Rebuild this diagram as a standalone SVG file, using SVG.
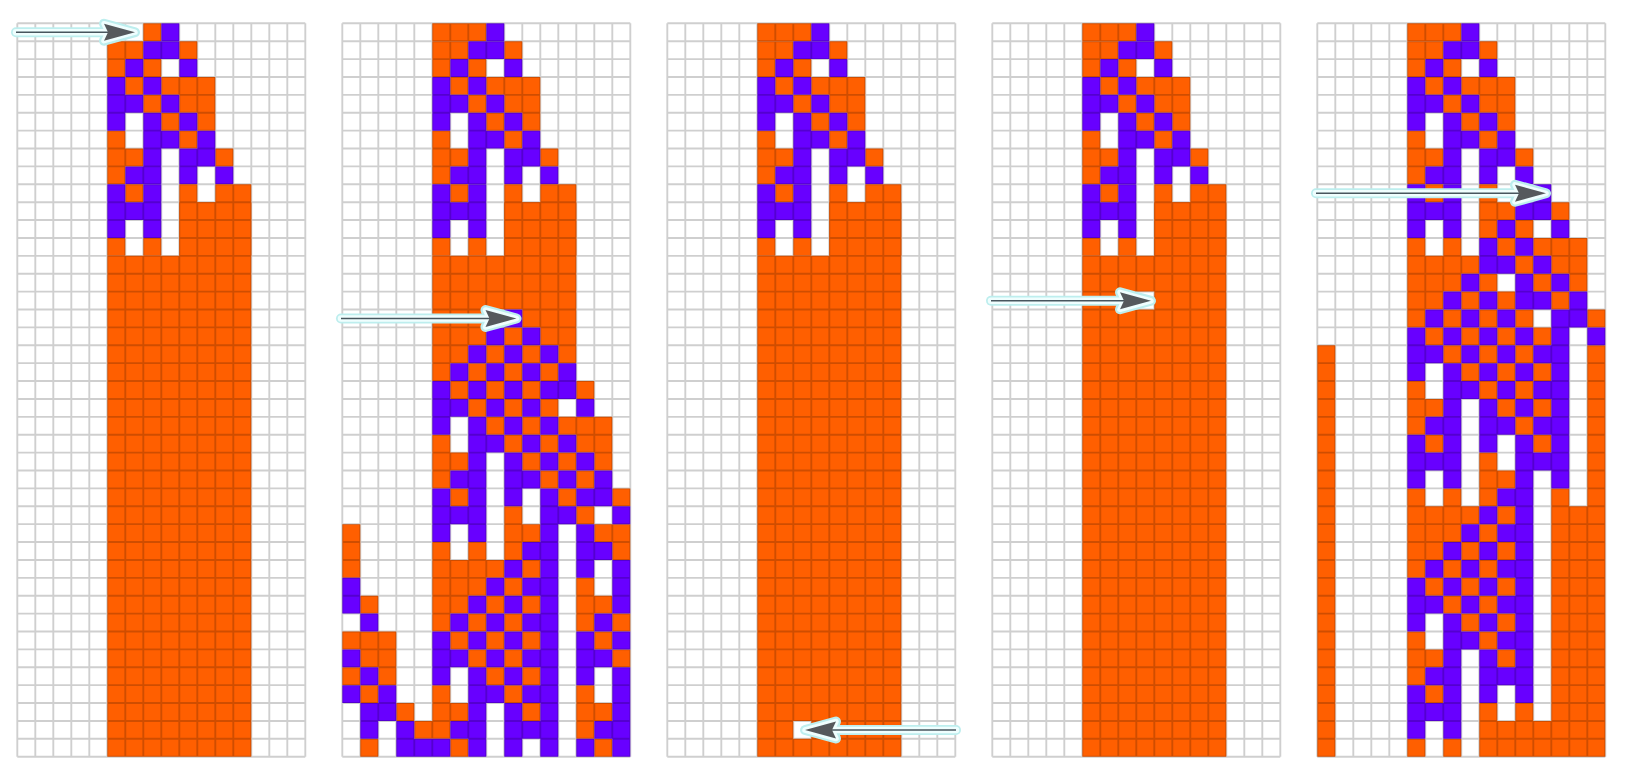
<svg xmlns="http://www.w3.org/2000/svg" xmlns:xlink="http://www.w3.org/1999/xlink" width="1625" height="784" viewBox="0 0 1625 784">
<style>
.o{fill:#ff5f00}
.p{fill:#6800ff}
.hl1{fill:none;stroke:#bdeeee;stroke-width:10;stroke-linecap:round}
.hl2{fill:none;stroke:#effefe;stroke-width:6.5;stroke-linecap:round}
.shaft{fill:none;stroke:#47565e;stroke-width:1.5}
.hh1{fill:#bdeeee;stroke:#bdeeee;stroke-width:10;stroke-linejoin:round}
.hh2{fill:#effefe;stroke:#effefe;stroke-width:5.5;stroke-linejoin:round}
.hd{fill:#55595c;stroke:none}
</style>
<defs>
<path id="grid" fill="none" stroke="#000" stroke-opacity="0.19" stroke-width="1.9" vector-effect="non-scaling-stroke" d="M0 0V41M1 0V41M2 0V41M3 0V41M4 0V41M5 0V41M6 0V41M7 0V41M8 0V41M9 0V41M10 0V41M11 0V41M12 0V41M13 0V41M14 0V41M15 0V41M16 0V41M0 0H16M0 1H16M0 2H16M0 3H16M0 4H16M0 5H16M0 6H16M0 7H16M0 8H16M0 9H16M0 10H16M0 11H16M0 12H16M0 13H16M0 14H16M0 15H16M0 16H16M0 17H16M0 18H16M0 19H16M0 20H16M0 21H16M0 22H16M0 23H16M0 24H16M0 25H16M0 26H16M0 27H16M0 28H16M0 29H16M0 30H16M0 31H16M0 32H16M0 33H16M0 34H16M0 35H16M0 36H16M0 37H16M0 38H16M0 39H16M0 40H16M0 41H16"/>
<g id="top">
<path class="o" d="M5 1h2v1h-2zM9 1h1v1h-1zM5 2h1v1h-1zM7 2h1v1h-1zM6 3h1v1h-1zM8 3h3v1h-3zM7 4h1v1h-1zM9 4h2v1h-2zM8 5h1v1h-1zM10 5h1v1h-1zM5 6h1v1h-1zM9 6h1v1h-1zM5 7h2v1h-2zM11 7h1v1h-1zM5 8h1v1h-1z"/>
<path class="p" d="M7 1h2v1h-2zM6 2h1v1h-1zM9 2h1v1h-1zM5 3h1v1h-1zM7 3h1v1h-1zM5 4h2v1h-2zM8 4h1v1h-1zM5 5h1v1h-1zM7 5h1v1h-1zM9 5h1v1h-1zM7 6h2v1h-2zM10 6h1v1h-1zM7 7h1v1h-1zM9 7h2v1h-2zM6 8h2v1h-2zM9 8h1v1h-1zM11 8h1v1h-1z"/>
</g>
<g id="mid">
<path class="o" d="M6 9h1v1h-1zM9 9h1v1h-1zM11 9h2v1h-2zM9 10h4v3h-4zM5 12h1v1h-1zM7 12h1v1h-1z"/>
<path class="p" d="M5 9h1v1h-1zM7 9h1v1h-1zM5 10h3v1h-3zM5 11h1v1h-1zM7 11h1v1h-1z"/>
</g>
<g id="row0">
<path class="o" d="M5 0h3v1h-3z"/>
<path class="p" d="M8 0h1v1h-1z"/>
</g>
<path id="ah" d="M0 0L-31 -8.5L-27 0L-31 8.5Z"/>
</defs>
<rect x="0" y="0" width="1625" height="784" fill="#ffffff"/>

<g id="panel1" transform="translate(17.3,23.3) scale(18,17.888)">
<path class="o" d="M7 0h1v1h-1z"/>
<path class="p" d="M8 0h1v1h-1z"/>
<use xlink:href="#top"/>
<use xlink:href="#mid"/>
<path class="o" d="M5 13h8v28h-8zM9 10h4v3.1h-4z"/>
<use xlink:href="#grid"/>
</g>

<g id="panel2" transform="translate(342.3,23.3) scale(18,17.888)">
<use xlink:href="#row0"/>
<use xlink:href="#top"/>
<use xlink:href="#mid"/>
<path class="o" d="M9 10h4v3.1h-4zM5 13h8v3h-8zM5 16h3v1h-3zM10 16h3v1h-3zM5 17h3v1h-3zM9 17h1v1h-1zM11 17h2v1h-2zM5 18h2v1h-2zM8 18h1v1h-1zM10 18h1v1h-1zM12 18h1v1h-1zM5 19h1v1h-1zM7 19h1v1h-1zM9 19h1v1h-1zM11 19h1v1h-1zM6 20h1v1h-1zM8 20h1v1h-1zM10 20h1v1h-1zM13 20h1v1h-1zM7 21h1v1h-1zM9 21h1v1h-1zM11 21h1v1h-1zM8 22h1v1h-1zM10 22h1v1h-1zM12 22h3v1h-3zM5 23h1v1h-1zM9 23h1v1h-1zM11 23h1v1h-1zM13 23h2v1h-2zM5 24h2v1h-2zM10 24h1v1h-1zM12 24h1v1h-1zM14 24h1v1h-1zM5 25h1v1h-1zM11 25h1v1h-1zM13 25h1v1h-1zM6 26h1v1h-1zM12 26h1v1h-1zM15 26h1v1h-1zM9 27h1v1h-1zM13 27h1v1h-1zM0 28h1v3h-1zM9 28h2v1h-2zM14 28h2v1h-2zM5 29h1v1h-1zM7 29h1v1h-1zM9 29h1v1h-1zM15 29h1v1h-1zM5 30h4v1h-4zM10 30h1v1h-1zM5 31h3v1h-3zM9 31h1v1h-1zM13 31h1v1h-1zM1 32h1v1h-1zM5 32h2v1h-2zM8 32h1v1h-1zM10 32h1v1h-1zM13 32h2v1h-2zM5 33h1v1h-1zM7 33h1v1h-1zM9 33h1v1h-1zM13 33h1v1h-1zM15 33h1v1h-1zM0 34h3v1h-3zM6 34h1v1h-1zM8 34h1v1h-1zM10 34h1v1h-1zM14 34h1v1h-1zM1 35h2v1h-2zM7 35h1v1h-1zM9 35h1v1h-1zM15 35h1v1h-1zM0 36h1v1h-1zM2 36h1v1h-1zM8 36h1v1h-1zM10 36h1v1h-1zM1 37h1v1h-1zM5 37h1v1h-1zM9 37h1v1h-1zM13 37h1v1h-1zM3 38h1v1h-1zM5 38h2v1h-2zM10 38h1v1h-1zM13 38h2v1h-2zM4 39h2v1h-2zM13 39h1v1h-1zM1 40h1v1h-1zM6 40h1v1h-1zM14 40h1v1h-1z"/>
<path class="p" d="M9 16h1v1h-1zM8 17h1v1h-1zM10 17h1v1h-1zM7 18h1v1h-1zM9 18h1v1h-1zM11 18h1v1h-1zM6 19h1v1h-1zM8 19h1v1h-1zM10 19h1v1h-1zM12 19h1v1h-1zM5 20h1v1h-1zM7 20h1v1h-1zM9 20h1v1h-1zM11 20h2v1h-2zM5 21h2v1h-2zM8 21h1v1h-1zM10 21h1v1h-1zM13 21h1v1h-1zM5 22h1v1h-1zM7 22h1v1h-1zM9 22h1v1h-1zM11 22h1v1h-1zM7 23h2v1h-2zM10 23h1v1h-1zM12 23h1v1h-1zM7 24h1v1h-1zM9 24h1v1h-1zM11 24h1v1h-1zM13 24h1v1h-1zM6 25h2v1h-2zM9 25h2v1h-2zM12 25h1v1h-1zM14 25h1v1h-1zM5 26h1v1h-1zM7 26h1v1h-1zM9 26h1v1h-1zM11 26h1v1h-1zM13 26h2v1h-2zM5 27h3v1h-3zM11 27h2v1h-2zM15 27h1v1h-1zM5 28h1v1h-1zM7 28h1v1h-1zM11 28h1v1h-1zM13 28h1v1h-1zM10 29h2v1h-2zM13 29h2v1h-2zM9 30h1v1h-1zM11 30h1v1h-1zM13 30h1v1h-1zM15 30h1v1h-1zM0 31h1v1h-1zM8 31h1v1h-1zM10 31h2v1h-2zM15 31h1v1h-1zM0 32h1v1h-1zM7 32h1v1h-1zM9 32h1v1h-1zM11 32h1v1h-1zM15 32h1v1h-1zM1 33h1v1h-1zM6 33h1v1h-1zM8 33h1v1h-1zM10 33h2v1h-2zM14 33h1v1h-1zM5 34h1v1h-1zM7 34h1v1h-1zM9 34h1v1h-1zM11 34h1v1h-1zM13 34h1v1h-1zM15 34h1v1h-1zM0 35h1v1h-1zM5 35h2v1h-2zM8 35h1v1h-1zM10 35h2v1h-2zM13 35h2v1h-2zM1 36h1v1h-1zM5 36h1v1h-1zM7 36h1v1h-1zM9 36h1v1h-1zM11 36h1v1h-1zM13 36h1v1h-1zM15 36h1v1h-1zM0 37h1v1h-1zM2 37h1v1h-1zM7 37h2v1h-2zM10 37h2v1h-2zM15 37h1v1h-1zM1 38h2v1h-2zM7 38h1v1h-1zM9 38h1v1h-1zM11 38h1v1h-1zM15 38h1v1h-1zM1 39h1v1h-1zM3 39h1v1h-1zM6 39h2v1h-2zM9 39h3v1h-3zM14 39h2v1h-2zM3 40h3v1h-3zM7 40h1v1h-1zM9 40h1v1h-1zM11 40h1v1h-1zM13 40h1v1h-1zM15 40h1v1h-1z"/>
<use xlink:href="#grid"/>
</g>

<g id="panel3" transform="translate(667.3,23.3) scale(18,17.888)">
<use xlink:href="#row0"/>
<use xlink:href="#top"/>
<use xlink:href="#mid"/>
<path class="o" d="M9 10h4v3.1h-4zM5 13h8v26h-8zM5 39h2v1h-2zM8 39h5v1h-5zM5 40h8v1h-8z"/>
<use xlink:href="#grid"/>
</g>

<g id="panel4" transform="translate(992.3,23.3) scale(18,17.888)">
<use xlink:href="#row0"/>
<use xlink:href="#top"/>
<use xlink:href="#mid"/>
<path class="o" d="M9 10h4v3.1h-4zM5 13h8v2h-8zM5 15h3v1h-3zM9 15h4v1h-4zM5 16h8v25h-8z"/>
<use xlink:href="#grid"/>
</g>

<g id="panel5" transform="translate(1317.3,23.3) scale(18,17.888)">
<use xlink:href="#row0"/>
<use xlink:href="#top"/>
<path class="o" d="M6 9h1v1h-1zM9 9h1v1h-1zM9 10h2v1h-2zM13 10h1v1h-1zM9 11h1v1h-1zM11 11h1v1h-1zM5 12h1v1h-1zM7 12h1v1h-1zM10 12h1v1h-1zM12 12h3v1h-3zM5 13h4v1h-4zM11 13h1v1h-1zM13 13h2v1h-2zM5 14h3v1h-3zM9 14h1v1h-1zM12 14h1v1h-1zM14 14h1v1h-1zM5 15h2v1h-2zM8 15h1v1h-1zM10 15h1v1h-1zM13 15h1v1h-1zM5 16h1v1h-1zM7 16h1v1h-1zM9 16h1v1h-1zM11 16h1v1h-1zM15 16h1v1h-1zM6 17h1v1h-1zM8 17h1v1h-1zM10 17h1v1h-1zM12 17h1v1h-1zM0 18h1v23h-1zM15 18h1v23h-1zM13 27h2v14h-2zM9 39h4v2h-4zM7 18h1v1h-1zM9 18h1v1h-1zM11 18h1v1h-1zM8 19h1v1h-1zM10 19h1v1h-1zM12 19h1v1h-1zM5 20h1v1h-1zM9 20h1v1h-1zM11 20h1v1h-1zM5 21h2v1h-2zM10 21h1v1h-1zM12 21h1v1h-1zM5 22h1v1h-1zM11 22h1v1h-1zM6 23h1v1h-1zM12 23h1v1h-1zM9 24h1v1h-1zM9 25h2v1h-2zM5 26h1v1h-1zM7 26h1v1h-1zM9 26h1v1h-1zM13 26h1v1h-1zM5 27h4v1h-4zM10 27h1v1h-1zM5 28h3v1h-3zM9 28h1v1h-1zM5 29h2v1h-2zM8 29h1v1h-1zM10 29h1v1h-1zM5 30h1v1h-1zM7 30h1v1h-1zM9 30h1v1h-1zM6 31h1v1h-1zM8 31h1v1h-1zM10 31h1v1h-1zM7 32h1v1h-1zM9 32h1v1h-1zM8 33h1v1h-1zM10 33h1v1h-1zM5 34h1v1h-1zM9 34h1v1h-1zM5 35h2v1h-2zM10 35h1v1h-1zM5 36h1v1h-1zM6 37h1v1h-1zM9 38h1v1h-1zM11 38h1v1h-1zM5 40h1v1h-1zM7 40h1v1h-1z"/>
<path class="p" d="M5 9h1v1h-1zM7 9h1v1h-1zM12 9h1v1h-1zM5 10h3v1h-3zM11 10h2v1h-2zM5 11h1v1h-1zM7 11h1v1h-1zM10 11h1v1h-1zM13 11h1v1h-1zM9 12h1v1h-1zM11 12h1v1h-1zM9 13h2v1h-2zM12 13h1v1h-1zM8 14h1v1h-1zM11 14h1v1h-1zM13 14h1v1h-1zM7 15h1v1h-1zM9 15h1v1h-1zM11 15h2v1h-2zM14 15h1v1h-1zM6 16h1v1h-1zM8 16h1v1h-1zM10 16h1v1h-1zM13 16h2v1h-2zM5 17h1v1h-1zM7 17h1v1h-1zM9 17h1v1h-1zM11 17h1v1h-1zM13 17h1v1h-1zM15 17h1v1h-1zM5 18h2v1h-2zM8 18h1v1h-1zM10 18h1v1h-1zM12 18h2v1h-2zM5 19h1v1h-1zM7 19h1v1h-1zM9 19h1v1h-1zM11 19h1v1h-1zM13 19h1v1h-1zM7 20h2v1h-2zM10 20h1v1h-1zM12 20h2v1h-2zM7 21h1v1h-1zM9 21h1v1h-1zM11 21h1v1h-1zM13 21h1v1h-1zM6 22h2v1h-2zM9 22h2v1h-2zM12 22h2v1h-2zM5 23h1v1h-1zM7 23h1v1h-1zM9 23h1v1h-1zM11 23h1v1h-1zM13 23h1v1h-1zM5 24h3v1h-3zM11 24h3v1h-3zM5 25h1v1h-1zM7 25h1v1h-1zM11 25h1v1h-1zM13 25h1v1h-1zM10 26h2v1h-2zM9 27h1v1h-1zM11 27h1v1h-1zM8 28h1v1h-1zM10 28h2v1h-2zM7 29h1v1h-1zM9 29h1v1h-1zM11 29h1v1h-1zM6 30h1v1h-1zM8 30h1v1h-1zM10 30h2v1h-2zM5 31h1v1h-1zM7 31h1v1h-1zM9 31h1v1h-1zM11 31h1v1h-1zM5 32h2v1h-2zM8 32h1v1h-1zM10 32h2v1h-2zM5 33h1v1h-1zM7 33h1v1h-1zM9 33h1v1h-1zM11 33h1v1h-1zM7 34h2v1h-2zM10 34h2v1h-2zM7 35h1v1h-1zM9 35h1v1h-1zM11 35h1v1h-1zM6 36h2v1h-2zM9 36h3v1h-3zM5 37h1v1h-1zM7 37h1v1h-1zM9 37h1v1h-1zM11 37h1v1h-1zM5 38h3v1h-3zM5 39h1v1h-1zM7 39h1v1h-1z"/>
<use xlink:href="#grid"/>
</g>

<g id="connectors">
<g id="arrow1">
<path class="hl1" d="M16 32.2H112"/>
<use xlink:href="#ah" class="hh1" transform="translate(135,32.2)"/>
<path class="hl2" d="M16 32.2H112"/>
<use xlink:href="#ah" class="hh2" transform="translate(135,32.2)"/>
<path class="shaft" d="M16 32.2H112"/>
<use xlink:href="#ah" class="hd" transform="translate(135,32.2)"/>
</g>
<g id="arrow2">
<path class="hl1" d="M341 318.5H493"/>
<use xlink:href="#ah" class="hh1" transform="translate(516.5,318.5)"/>
<path class="hl2" d="M341 318.5H493"/>
<use xlink:href="#ah" class="hh2" transform="translate(516.5,318.5)"/>
<path class="shaft" d="M341 318.5H493"/>
<use xlink:href="#ah" class="hd" transform="translate(516.5,318.5)"/>
</g>
<g id="arrow3">
<path class="hl1" d="M956 730H828"/>
<use xlink:href="#ah" class="hh1" transform="translate(805,730) scale(-1,1)"/>
<path class="hl2" d="M956 730H828"/>
<use xlink:href="#ah" class="hh2" transform="translate(805,730) scale(-1,1)"/>
<path class="shaft" d="M956 730H828"/>
<use xlink:href="#ah" class="hd" transform="translate(805,730) scale(-1,1)"/>
</g>
<g id="arrow4">
<path class="hl1" d="M991 300.8H1128"/>
<use xlink:href="#ah" class="hh1" transform="translate(1151,300.8)"/>
<path class="hl2" d="M991 300.8H1128"/>
<use xlink:href="#ah" class="hh2" transform="translate(1151,300.8)"/>
<path class="shaft" d="M991 300.8H1128"/>
<use xlink:href="#ah" class="hd" transform="translate(1151,300.8)"/>
</g>
<g id="arrow5">
<path class="hl1" d="M1316 193.3H1523"/>
<use xlink:href="#ah" class="hh1" transform="translate(1546,193.3)"/>
<path class="hl2" d="M1316 193.3H1523"/>
<use xlink:href="#ah" class="hh2" transform="translate(1546,193.3)"/>
<path class="shaft" d="M1316 193.3H1523"/>
<use xlink:href="#ah" class="hd" transform="translate(1546,193.3)"/>
</g>
</g>
</svg>
